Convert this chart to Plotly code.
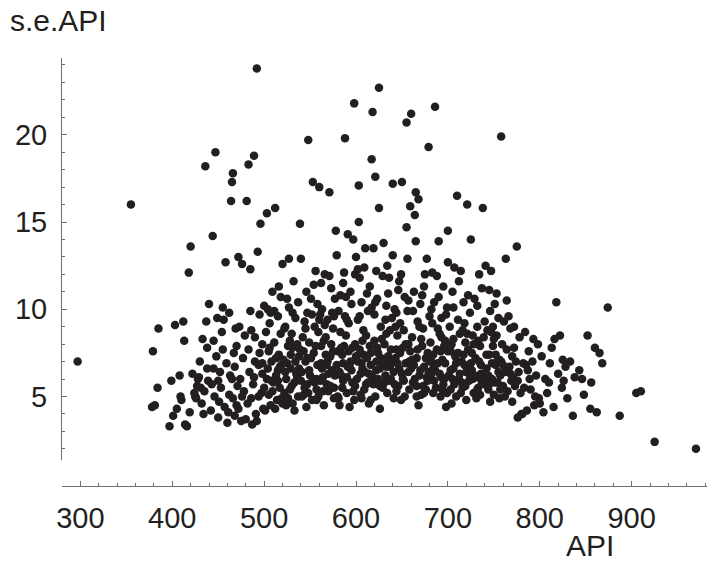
import plotly.graph_objects as go

# (API, s.e.API) pairs, grouped by API range
pts_left = [(297,7.0),(355,16.0),(378,4.4),(381,4.5),(384,5.5),(379,7.6),(385,8.9),(397,3.3),(399,5.9),(401,3.9),(403,9.1),
            (405,4.3),(408,6.2),(409,5.0),(410,4.8),(412,9.3),(413,8.2),(414,3.4),(416,3.3),(419,4.1),(418,12.1),(420,13.6)]
pts_420 = [(422,6.3),(424,5.2),(425,5.0),(426,4.9),(428,6.0),(429,6.1),(430,7.0),(431,5.5),(432,4.6),(433,8.3),(434,4.0),(436,18.2),(437,9.3),(438,6.6),(439,5.9),(435,5.3),(427,5.6),(440,10.3),(438,7.8),
           (442,4.2),(443,5.7),(444,14.2),(445,6.6),(446,5.0),(447,19.0),(448,7.3),(449,9.5),(450,3.8),(451,4.7),(452,6.4),(453,5.5),(454,8.7),(455,10.1),(456,9.4),(457,4.4),(458,12.7),(459,6.9),(445,8.2),(450,5.9),(455,7.7),(460,3.5)]
pts_460 = [(461,4.1),(462,5.1),(463,6.2),(464,16.2),(465,17.3),(466,17.8),(466,4.9),(467,7.5),(468,3.9),(469,8.9),(470,4.5),(471,5.6),(472,13.0),(473,9.0),(474,6.0),(475,3.6),(476,12.6),(477,7.2),(478,5.3),(479,8.5),(462,9.8),(468,6.7),(472,4.3),(476,5.0),(480,3.7),(465,6.0),(470,7.9),
           (481,16.2),(482,4.6),(483,18.3),(484,6.4),(485,12.3),(486,8.8),(487,3.4),(488,5.7),(489,18.8),(490,7.0),(491,4.0),(492,23.8),(493,13.3),(494,6.8),(495,9.7),(496,14.9),(497,5.2),(498,8.0),(499,4.3),(500,10.2),(483,7.7),(486,4.9),(489,6.1),(492,3.6),(495,7.5),(498,6.3),(500,5.5),(485,9.9),(490,8.4),(494,5.0)]
pts_500 = [(501,4.2),(502,8.7),(503,15.5),(504,6.6),(505,5.1),(506,9.2),(507,4.5),(508,7.0),(509,11.0),(510,5.8),(511,8.1),(512,15.8),(513,6.2),(514,4.8),(515,9.6),(516,7.4),(517,5.5),(518,10.7),(519,6.8),(520,12.6),(503,6.0),(506,7.8),(509,5.3),(512,4.3),(515,6.5),(518,8.6),(504,10.0),(511,9.9),(516,11.3),(520,4.6),(513,7.2),(507,9.8),
           (521,7.1),(522,5.2),(523,9.0),(524,6.0),(525,10.6),(526,4.9),(527,12.9),(528,8.2),(529,6.6),(530,5.6),(531,7.8),(532,11.6),(533,4.2),(534,9.5),(535,6.3),(536,8.0),(537,5.0),(538,7.3),(539,14.9),(540,12.9),(522,8.9),(525,6.9),(528,5.4),(531,9.8),(534,7.0),(537,10.4),(540,5.9),(524,4.5),(530,8.6),(536,6.1),(539,7.7),(527,10.1)]
pts_540 = [(541,6.4),(542,8.4),(543,5.1),(544,9.3),(545,7.0),(546,11.0),(547,5.7),(548,19.7),(549,8.1),(550,6.2),(551,10.6),(552,4.8),(553,17.3),(554,7.5),(555,9.0),(556,12.2),(557,5.4),(558,6.8),(559,8.7),(560,17.0),(543,7.6),(546,4.4),(549,6.5),(552,9.7),(555,5.8),(558,10.3),(545,8.9),(551,7.2),(557,6.0),(560,9.4),(548,5.2),(554,11.4),
           (561,5.9),(562,7.9),(563,10.0),(564,6.1),(565,4.5),(566,12.0),(567,8.4),(568,6.8),(569,9.4),(570,5.3),(571,16.7),(572,7.3),(573,11.2),(574,6.5),(575,8.9),(576,4.9),(577,10.6),(578,14.5),(579,13.1),(580,7.6),(562,11.5),(565,8.2),(568,5.7),(571,11.9),(574,9.8),(577,6.2),(580,5.0),(563,6.6),(569,7.0),(575,7.6),(566,9.1),(572,5.6)]
pts_580 = [(581,9.9),(582,6.4),(583,10.8),(584,7.8),(585,5.5),(586,11.5),(587,12.1),(588,19.8),(589,8.5),(590,6.1),(591,14.3),(592,9.2),(593,4.4),(594,7.0),(595,10.3),(596,5.8),(597,14.0),(598,21.8),(599,8.0),(600,13.0),(582,4.5),(585,7.4),(588,9.6),(591,6.7),(594,11.0),(597,5.3),(600,7.3),(583,8.7),(589,10.7),(595,6.5),(599,12.0),(586,6.9),(592,7.6),
           (601,6.0),(602,9.4),(603,17.1),(604,7.7),(605,5.1),(606,10.4),(607,6.6),(608,8.8),(609,12.4),(610,13.5),(611,5.7),(612,7.2),(613,9.9),(614,6.3),(615,11.3),(616,4.8),(617,18.6),(618,21.3),(619,13.5),(620,8.2),(603,15.0),(606,6.9),(609,5.4),(612,10.9),(615,7.9),(618,6.1),(620,9.7),(604,11.8),(608,7.4),(611,8.5),(614,4.6),(617,10.1),(602,12.3),(616,6.8)]
pts_620 = [(621,17.6),(622,6.5),(623,10.6),(624,7.5),(625,22.7),(626,5.6),(627,9.0),(628,6.9),(629,11.9),(630,13.8),(631,8.0),(632,6.2),(633,10.2),(634,5.2),(635,7.3),(636,11.8),(637,8.8),(638,6.0),(639,9.5),(640,17.2),(622,12.2),(625,15.8),(628,8.3),(631,5.8),(634,12.5),(637,6.7),(640,13.1),(623,7.8),(626,4.3),(632,9.4),(635,10.9),(638,7.7),(621,5.0),
           (641,6.4),(642,10.0),(643,7.2),(644,5.3),(645,8.5),(646,11.1),(647,6.6),(648,9.2),(649,4.8),(650,17.3),(651,7.8),(652,5.9),(653,10.7),(654,6.9),(655,20.7),(656,12.9),(657,8.0),(658,7.0),(659,15.9),(660,21.2),(643,9.0),(646,5.6),(649,12.0),(652,8.8),(655,14.7),(658,5.4),(644,7.7),(650,6.3),(656,9.9),(660,6.6),(647,11.6)]
pts_660 = [(661,8.4),(662,5.8),(663,11.0),(664,15.4),(665,16.7),(666,7.2),(667,9.3),(668,16.3),(669,6.2),(670,10.3),(671,5.1),(672,7.9),(673,8.9),(674,6.7),(675,12.0),(676,5.4),(677,12.9),(678,7.5),(679,19.3),(680,9.6),(663,6.8),(665,13.9),(668,4.5),(671,8.3),(674,11.3),(677,6.1),(680,7.0),(662,9.9),(666,5.6),(672,10.8),(678,5.9),
           (681,8.1),(682,6.3),(683,12.1),(684,7.4),(685,10.4),(686,21.6),(687,5.5),(688,11.9),(689,6.9),(690,13.9),(691,8.6),(692,5.0),(693,9.5),(694,7.1),(695,11.3),(696,6.0),(697,8.2),(698,4.4),(699,10.1),(700,12.7),(683,9.2),(686,6.5),(689,8.9),(692,7.6),(695,5.7),(698,9.7),(700,14.5),(684,5.2),(690,10.7),(696,7.9)]
pts_700 = [(701,6.2),(702,9.0),(703,5.4),(704,8.0),(705,11.0),(706,6.6),(707,12.4),(708,7.3),(709,5.0),(710,16.5),(711,9.4),(712,6.0),(713,8.6),(714,12.2),(715,7.0),(716,5.5),(717,10.4),(718,6.8),(719,8.1),(720,4.8),(703,7.6),(706,10.1),(709,6.9),(712,11.6),(715,5.8),(718,9.2),(704,4.6),(711,7.5),(716,8.8),(720,6.4),
           (721,16.0),(722,7.7),(723,5.9),(724,9.8),(725,14.0),(726,6.5),(727,8.5),(728,5.2),(729,10.6),(730,7.2),(731,6.1),(732,9.0),(733,5.5),(734,12.0),(735,7.9),(736,6.3),(737,11.2),(738,15.8),(739,8.4),(740,5.7),(722,10.8),(725,6.9),(728,8.0),(731,4.9),(734,7.0),(737,5.8),(740,9.3),(727,6.0),(733,8.2)]
pts_740 = [(741,12.5),(742,6.6),(743,8.8),(744,5.4),(745,7.4),(746,9.9),(747,12.2),(748,6.0),(749,7.9),(750,5.1),(751,10.3),(752,6.8),(753,8.5),(754,5.8),(755,9.5),(756,7.1),(757,6.2),(758,19.9),(759,8.0),(760,5.6),(743,6.0),(746,4.7),(749,9.0),(752,7.4),(755,6.4),(745,11.1),(750,8.3),(758,7.0),
           (761,9.3),(762,6.4),(763,12.9),(764,7.7),(765,5.3),(766,9.6),(767,6.7),(768,8.9),(769,5.9),(770,7.3),(771,6.1),(772,9.0),(773,5.6),(774,7.0),(775,13.6),(776,3.8),(777,6.4),(778,8.4),(779,5.2),(780,4.0),(764,10.5),(768,6.3),(772,7.8),(776,5.9),(762,5.0),(770,4.7)]
pts_right = [(781,4.0),(782,6.9),(783,5.5),(785,6.8),(787,6.5),(788,7.6),(790,5.4),(792,7.0),(793,8.3),(794,4.5),(796,6.2),(798,8.0),(799,4.9),(800,4.6),(784,8.7),(789,6.0),(795,5.0),(786,4.2),
             (802,7.3),(804,4.1),(806,6.0),(808,5.2),(810,5.8),(811,6.9),(813,7.8),(816,8.3),(818,10.4),(820,6.3),(822,8.5),(824,5.5),(825,7.1),(828,6.7),(830,4.9),(833,7.0),(836,3.9),(838,6.1),(815,4.4),(826,5.9),
             (843,6.5),(846,6.0),(848,5.1),(852,8.5),(855,4.3),(856,5.8),(860,7.8),(862,4.1),(865,7.5),(868,6.9),(874,10.1),
             (887,3.9),(905,5.2),(910,5.3),(925,2.4),(970,2.0)]
pts_core = [(523,6.4),(529,7.4),(533,5.8),(538,6.6),(544,5.5),(547,7.2),(553,6.0),(556,7.9),(559,5.0),(562,6.9),(567,7.4),(570,6.3),(573,8.0),(576,5.5),(579,6.8),(584,6.2),(587,7.9),(590,5.2),(593,6.8),(596,7.8),(599,5.6),(602,7.0),(605,6.3),(607,8.2),(610,6.4),(613,5.8),(616,7.5),(619,5.7),(622,7.0),(624,6.0),(627,7.2),(629,5.5),(633,6.7),(636,5.9),(639,7.0),(642,5.7),(645,6.9),(648,7.5),(651,6.0),(654,8.0),(657,6.4),(661,7.1),(664,6.0),(667,7.7),(670,6.5),(673,5.6),(676,7.2),(679,6.4),(682,7.0),(685,5.9),(688,7.7),(691,6.3),(694,5.4),(697,6.9),(700,7.6),(703,6.5),(707,5.7),(710,7.0),(713,6.3),(717,7.4),(719,5.6),(723,6.8),(726,7.5),(729,6.2),(732,5.4),(736,6.8),(739,6.0),(742,7.4),(744,6.2),(748,6.9),(751,5.8),(754,7.0),(757,5.4),(760,6.8),
            (526,7.9),(541,5.0),(557,4.8),(564,5.3),(581,4.9),(586,5.9),(598,4.8),(606,4.9),(626,6.6),(631,7.0),(641,4.9),(653,5.0),(659,7.6),(666,5.0),(674,5.2),(684,6.6),(693,6.1),(699,5.2),(705,6.0),(714,5.2),(724,6.2),(735,5.1),(745,5.7),(756,4.9),(498,6.9),(505,7.6),(508,5.9),(515,5.9),(517,6.7),(519,4.9),(531,4.6),
            (547,9.8),(561,9.7),(576,9.6),(590,9.4),(604,9.6),(621,10.4),(633,8.6),(644,9.8),(657,10.5),(669,9.0),(682,10.0),(693,8.4),(706,8.3),(721,8.6),(732,10.2),(747,8.7),(753,10.9)]

x_ticks = [300, 400, 500, 600, 700, 800, 900]
y_ticks = [5, 10, 15, 20]

groups = [pts_left, pts_420, pts_460, pts_500, pts_540, pts_580, pts_620, pts_660, pts_700, pts_740, pts_right, pts_core]
api = [p[0] for g in groups for p in g]
se = [p[1] for g in groups for p in g]

ink = "#231f20"
axc = "#6d6e71"
tick_font = dict(family="Liberation Sans, Arial, sans-serif", size=29, color=ink)
title_font = dict(family="Liberation Sans, Arial, sans-serif", size=30, color=ink)

fig = go.Figure(go.Scatter(x=api, y=se, mode="markers",
                           marker=dict(size=8.5, color=ink, line=dict(width=0)),
                           showlegend=False, hoverinfo="skip"))

fig.update_layout(
    width=707, height=564,
    margin=dict(l=62, r=0, t=58, b=78),
    paper_bgcolor="white", plot_bgcolor="white",
    font=tick_font,
    xaxis=dict(range=[280, 982], anchor="free", position=0,
               showgrid=False, zeroline=False,
               showline=True, linecolor=axc, linewidth=1,
               tickmode="array", tickvals=x_ticks, ticktext=[str(v) for v in x_ticks],
               ticks="inside", ticklen=5, tickcolor=axc, tickwidth=1,
               minor=dict(dtick=20, tick0=0, ticks="inside", ticklen=3, tickcolor=axc, tickwidth=1, showgrid=False),
               tickfont=tick_font, ticklabelstandoff=6),
    yaxis=dict(range=[1.36, 24.4], domain=[0.0607, 1],
               showgrid=False, zeroline=False,
               showline=True, linecolor=axc, linewidth=1,
               tickmode="array", tickvals=y_ticks, ticktext=[str(v) for v in y_ticks],
               ticks="inside", ticklen=5, tickcolor=axc, tickwidth=1,
               minor=dict(dtick=1, tick0=0, ticks="inside", ticklen=3, tickcolor=axc, tickwidth=1, showgrid=False),
               tickfont=tick_font, ticklabelstandoff=8),
    annotations=[
        dict(text="API", xref="paper", yref="paper", x=0.819, y=-0.138,
             showarrow=False, font=title_font, xanchor="center", yanchor="middle"),
        dict(text="s.e.API", xref="paper", yref="paper", x=-0.084, y=1.088,
             showarrow=False, font=title_font, xanchor="left", yanchor="middle"),
    ],
)

fig.write_html("out.html")
